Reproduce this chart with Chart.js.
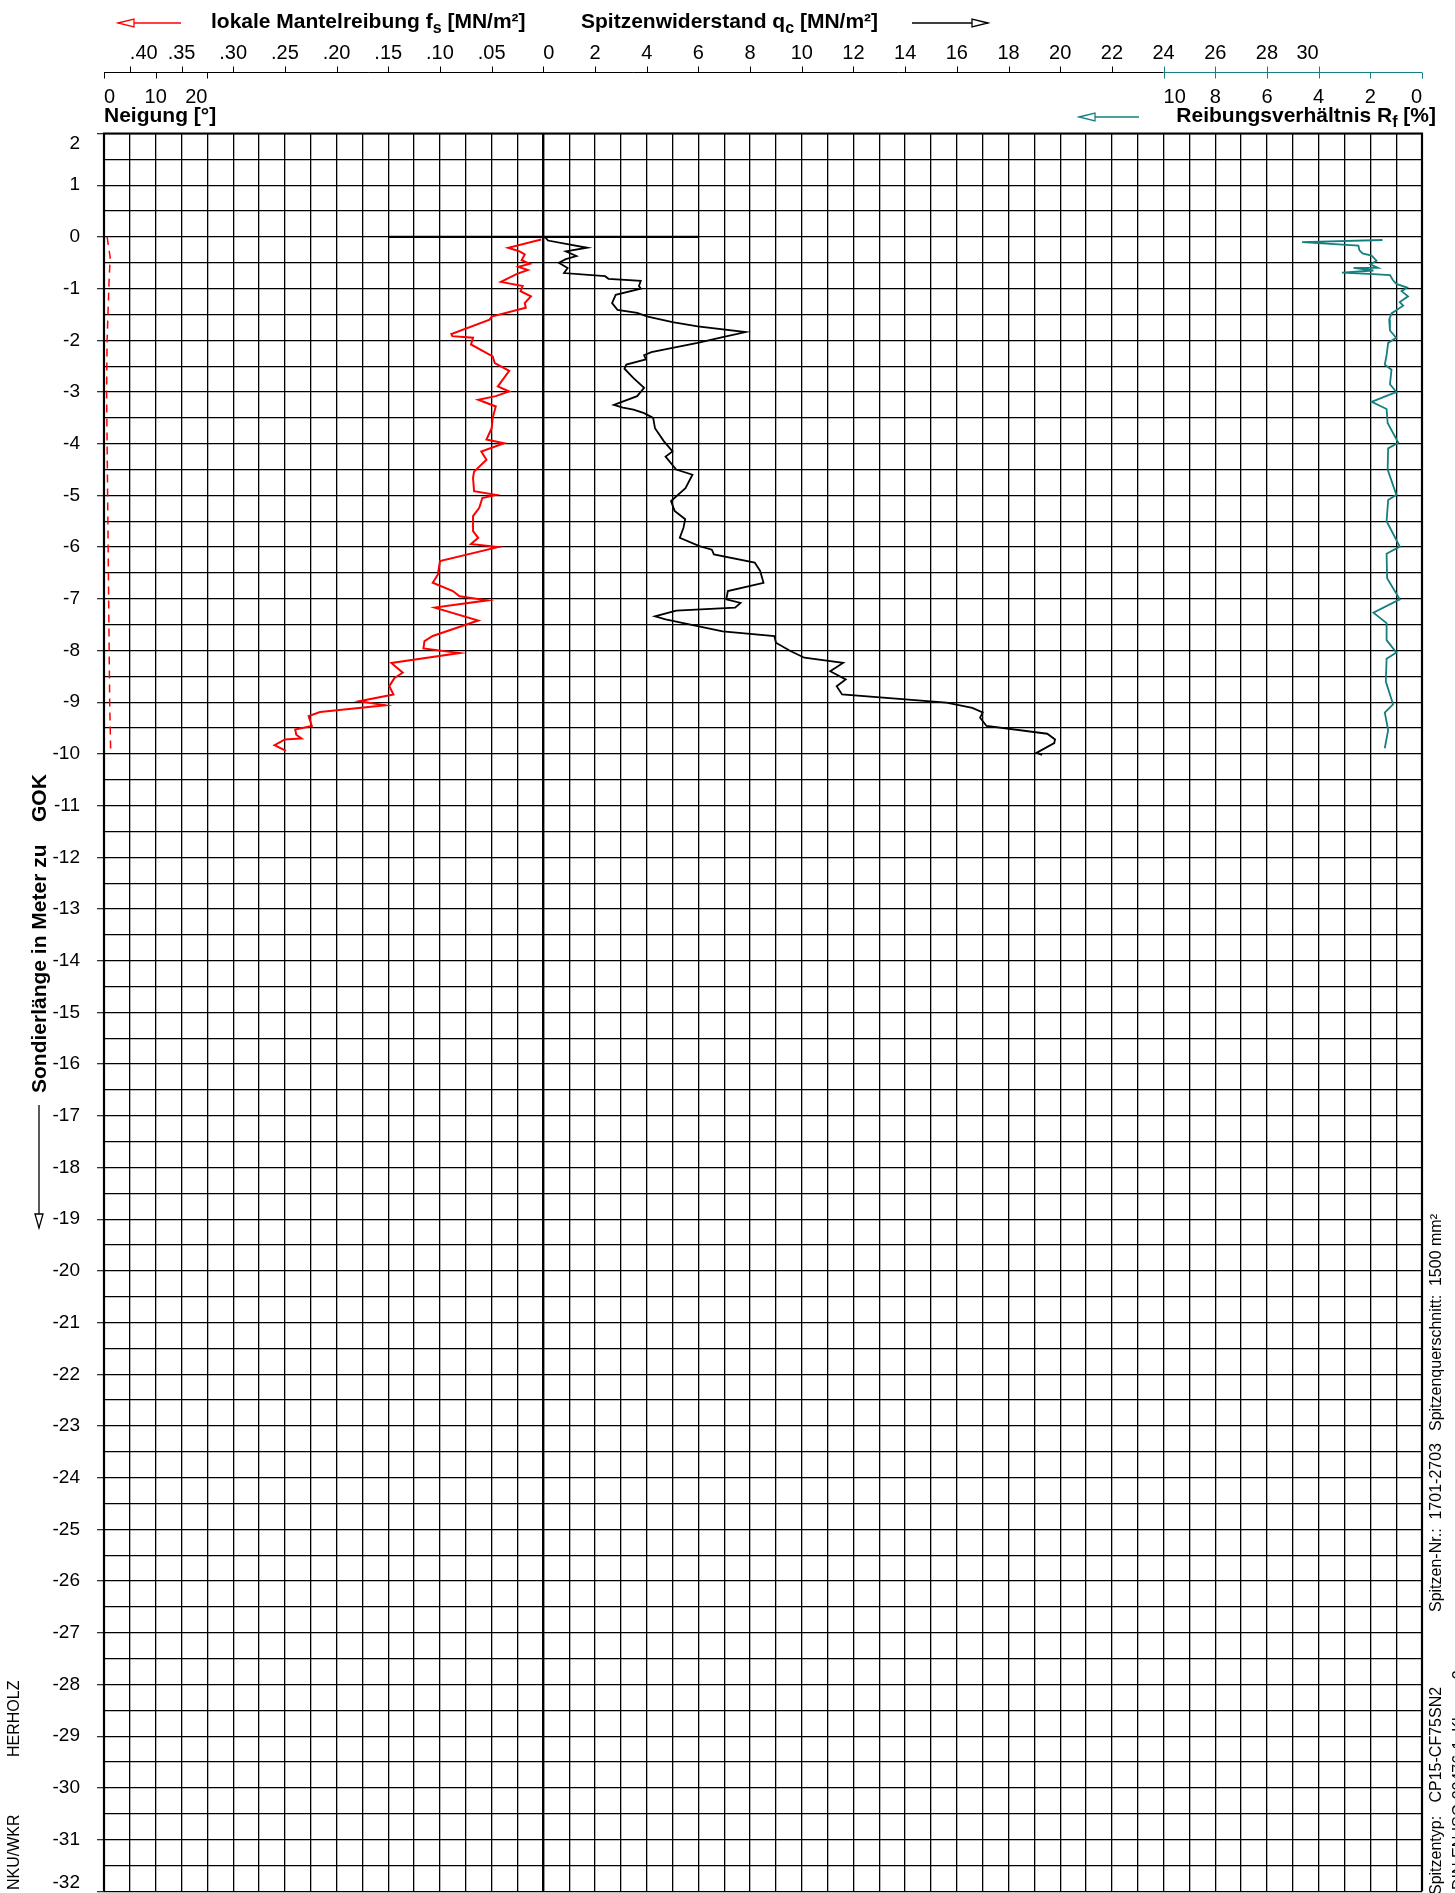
<!DOCTYPE html>
<html>
<head>
<meta charset="utf-8">
<script src="https://cdn.jsdelivr.net/npm/chart.js@4.4.0/dist/chart.umd.min.js"></script>
<style>
  html, body { margin: 0; padding: 0; background: #fff; overflow: hidden; }
  canvas { display: block; }
</style>
</head>
<body>
<canvas id="cpt" width="1455" height="1893"></canvas>
<script>
// ============================================
// CPT PLOT (Drucksondierung)
// qc, fs, Rf and Neigung over Sondierlaenge
// ============================================

// --- Spitzenwiderstand qc [MN/m2] ---
const qcDepth = [0, -0.02, -0.07, -0.21, -0.28, -0.37, -0.43, -0.50, -0.60, -0.70,
  -0.76, -0.81, -0.85, -0.95, -1.00, -1.12, -1.28, -1.41, -1.47, -1.54,
  -1.65, -1.73, -1.84, -1.94, -2.05, -2.23, -2.29, -2.37, -2.47, -2.55,
  -2.73, -2.92, -3.08, -3.25, -3.30, -3.34, -3.41, -3.50, -3.70, -3.95,
  -4.15, -4.25, -4.50, -4.60, -4.86, -5.11, -5.30, -5.46, -5.63, -5.82,
  -5.98, -6.05, -6.14, -6.30, -6.46, -6.69, -6.85, -7.01, -7.08, -7.17,
  -7.23, -7.34, -7.40, -7.53, -7.63, -7.72, -7.85, -8.01, -8.14, -8.24,
  -8.40, -8.56, -8.69, -8.85, -9.01, -9.11, -9.20, -9.30, -9.46, -9.61,
  -9.72, -9.79, -9.98, -10.02];
const qcValues = [0, 0.1, 0.18, 1.7, 0.87, 1.28, 0.87, 0.6, 0.94, 0.8,
  2.39, 2.52, 3.77, 3.7, 3.77, 2.8, 2.66, 2.87, 3.63, 4.04,
  5.0, 5.97, 7.83, 6.94, 5.97, 4.18, 3.9, 3.97, 3.21, 3.14,
  3.49, 3.9, 3.63, 2.73, 3.08, 3.49, 3.9, 4.25, 4.32, 4.66,
  5.0, 4.73, 5.14, 5.77, 5.5, 4.94, 5.08, 5.49, 5.42, 5.28,
  6.04, 6.52, 6.6, 8.18, 8.39, 8.52, 7.14, 7.08, 7.63, 7.42,
  5.14, 4.32, 4.73, 5.97, 6.94, 8.94, 9.0, 9.56, 10.1, 11.6,
  11.1, 11.7, 11.35, 11.56, 15.6, 16.6, 17.0, 16.9, 17.15, 19.5,
  19.8, 19.77, 19.08, 19.3];

// --- lokale Mantelreibung fs [MN/m2] ---
const fsDepth = [-0.05, -0.21, -0.28, -0.34, -0.45, -0.52, -0.58, -0.64, -0.72, -0.87,
  -0.95, -1.05, -1.15, -1.28, -1.37, -1.54, -1.60, -1.88, -1.92, -1.95,
  -2.08, -2.31, -2.44, -2.59, -2.89, -2.99, -3.08, -3.15, -3.28, -3.50,
  -3.70, -3.92, -3.99, -4.15, -4.31, -4.54, -4.66, -4.92, -4.99, -5.05,
  -5.24, -5.40, -5.69, -5.82, -5.94, -6.00, -6.27, -6.53, -6.69, -6.85,
  -6.95, -7.03, -7.17, -7.42, -7.72, -7.82, -7.96, -8.05, -8.24, -8.43,
  -8.53, -8.69, -8.85, -8.98, -9.06, -9.19, -9.27, -9.46, -9.53, -9.63,
  -9.70, -9.72, -9.83, -9.94];
const fsValues = [0.002, 0.034, 0.023, 0.018, 0.021, 0.013, 0.024, 0.015, 0.026, 0.041,
  0.020, 0.022, 0.012, 0.018, 0.017, 0.050, 0.052, 0.089, 0.088, 0.068,
  0.070, 0.049, 0.047, 0.033, 0.044, 0.033, 0.046, 0.063, 0.046, 0.049,
  0.050, 0.055, 0.038, 0.060, 0.055, 0.067, 0.068, 0.067, 0.046, 0.059,
  0.062, 0.068, 0.068, 0.063, 0.070, 0.044, 0.100, 0.102, 0.107, 0.0875,
  0.081, 0.054, 0.105, 0.063, 0.107, 0.115, 0.116, 0.081, 0.147, 0.136,
  0.144, 0.149, 0.145, 0.178, 0.153, 0.216, 0.227, 0.224, 0.240, 0.239,
  0.234, 0.250, 0.260, 0.249];

// --- Reibungsverhaeltnis Rf [%] ---
const rfDepth = [-0.06, -0.10, -0.17, -0.26, -0.32, -0.36, -0.46, -0.53, -0.60, -0.60,
  -0.65, -0.69, -0.72, -0.74, -0.84, -0.91, -0.98, -1.05, -1.15, -1.26,
  -1.33, -1.48, -1.60, -1.81, -1.95, -2.05, -2.29, -2.47, -2.57, -2.85,
  -3.00, -3.06, -3.19, -3.33, -3.60, -3.98, -4.09, -4.50, -4.99, -5.09,
  -5.50, -5.99, -6.13, -6.60, -7.01, -7.27, -7.47, -7.80, -8.04, -8.16,
  -8.60, -9.04, -9.20, -9.54, -9.89];
const rfValues = [1.53, 4.64, 2.46, 2.42, 2.30, 1.95, 1.76, 2.00, 1.70, 2.65,
  1.88, 3.10, 1.88, 1.24, 1.12, 0.99, 0.58, 0.79, 0.54, 0.86,
  0.73, 1.18, 1.27, 1.24, 1.00, 1.31, 1.37, 1.44, 1.18, 1.24,
  0.99, 1.30, 1.95, 1.37, 1.33, 0.92, 1.31, 1.33, 0.99, 1.31,
  1.37, 0.86, 1.37, 1.35, 0.86, 1.88, 1.37, 1.37, 0.99, 1.37,
  1.40, 1.12, 1.44, 1.31, 1.44];

// --- Neigung [deg] ---
const neigungDepth = [0, -0.4, -0.8, -2.0, -3.0, -5.0, -7.0, -9.0, -10.0];
const neigungValues = [0.6, 1.2, 1.0, 0.6, 0.5, 0.7, 0.9, 1.1, 1.3];

// reference line at Ansatzpunkt
const zeroLineQc = [-6, 6];
const zeroLineDepth = [0, 0];

// --- tick labels ---
const fsTickValues = [0.40, 0.35, 0.30, 0.25, 0.20, 0.15, 0.10, 0.05];
const qcTickValues = [0, 2, 4, 6, 8, 10, 12, 14, 16, 18, 20, 22, 24, 26, 28, 30];
const neigungTickValues = [0, 10, 20];
const rfTickValues = [10, 8, 6, 4, 2, 0];
const depthLabels = [2, 1, 0, -1, -2, -3, -4, -5, -6, -7, -8, -9, -10, -11, -12, -13, -14,
  -15, -16, -17, -18, -19, -20, -21, -22, -23, -24, -25, -26, -27, -28, -29, -30, -31, -32];

const TEAL = '#13807f';
const RED = '#ff0000';
const GRID = '#000';
const FONT = '"Liberation Sans", Arial, sans-serif';

function toPoints(xs, ys) {
    return xs.map((v, i) => ({ x: v, y: ys[i] }));
}

function strokeLine(ctx, x1, y1, x2, y2, color, width) {
    ctx.strokeStyle = color;
    ctx.lineWidth = width || 1;
    ctx.beginPath();
    ctx.moveTo(x1, y1);
    ctx.lineTo(x2, y2);
    ctx.stroke();
}

// line with open arrow head at (x2, y2)
function arrow(ctx, x1, y1, x2, y2, color, vertical) {
    strokeLine(ctx, x1, y1, x2, y2, color, 1.3);
    ctx.strokeStyle = color;
    ctx.fillStyle = '#fff';
    ctx.lineWidth = 1.3;
    ctx.beginPath();
    if (vertical) {
        ctx.moveTo(x2, y2); ctx.lineTo(x2 - 4, y2 - 14); ctx.lineTo(x2 + 4, y2 - 14);
    } else {
        const d = x2 > x1 ? -1 : 1;
        ctx.moveTo(x2, y2); ctx.lineTo(x2 + d * 16, y2 - 4); ctx.lineTo(x2 + d * 16, y2 + 4);
    }
    ctx.closePath();
    ctx.fill();
    ctx.stroke();
}

// bold text with subscript parts
function drawRich(ctx, parts, x, y, align) {
    let total = 0;
    parts.forEach(p => {
        ctx.font = p.sub ? 'bold 16px ' + FONT : 'bold 21px ' + FONT;
        p.w = ctx.measureText(p.t).width;
        total += p.w;
    });
    let cx = align === 'right' ? x - total : x;
    ctx.textAlign = 'left';
    ctx.textBaseline = 'middle';
    ctx.fillStyle = '#000';
    parts.forEach(p => {
        ctx.font = p.sub ? 'bold 16px ' + FONT : 'bold 21px ' + FONT;
        ctx.fillText(p.t, cx, p.sub ? y + 7 : y);
        cx += p.w;
    });
}

function rotatedText(ctx, text, x, yBottom, font) {
    ctx.save();
    ctx.translate(x, yBottom);
    ctx.rotate(-Math.PI / 2);
    ctx.font = font;
    ctx.fillStyle = '#000';
    ctx.textAlign = 'left';
    ctx.textBaseline = 'middle';
    ctx.fillText(text, 0, 0);
    ctx.restore();
}

function labelRow(ctx, values, scale, y, fmt) {
    ctx.font = '20px ' + FONT;
    ctx.fillStyle = '#000';
    ctx.textBaseline = 'middle';
    values.forEach((v, i) => {
        ctx.textAlign = i === 0 ? 'left' : (i === values.length - 1 && fmt.clampEnd ? 'right' : 'center');
        ctx.fillText(fmt.f(v), scale.getPixelForValue(v), y);
    });
}

const cptFrame = {
    id: 'cptFrame',
    beforeDraw(chart) {
        const ctx = chart.ctx;
        ctx.save();
        ctx.fillStyle = '#fff';
        ctx.fillRect(0, 0, chart.width, chart.height);
        ctx.restore();
    },
    afterDraw(chart) {
        const { ctx, chartArea: a, scales } = chart;
        const xQ = scales.xQc, xF = scales.xFs, xR = scales.xRf, xNe = scales.xN, yS = scales.y;
        ctx.save();

        // frame
        ctx.strokeStyle = '#000';
        ctx.lineWidth = 2.2;
        ctx.beginPath();
        ctx.moveTo(a.left, a.bottom);
        ctx.lineTo(a.left, a.top);
        ctx.lineTo(a.right, a.top);
        ctx.lineTo(a.right, a.bottom);
        ctx.stroke();

        // top axis
        const axisY = 72.5;
        const x24 = xQ.getPixelForValue(24);
        strokeLine(ctx, a.left, axisY, x24, axisY, '#000', 1);
        strokeLine(ctx, x24, axisY, a.right, axisY, TEAL, 1);
        fsTickValues.forEach(v => {
            const px = Math.round(xF.getPixelForValue(v)) + 0.5;
            strokeLine(ctx, px, axisY - 6, px, axisY, '#000', 1);
        });
        qcTickValues.forEach(v => {
            const px = Math.round(xQ.getPixelForValue(v)) + 0.5;
            strokeLine(ctx, px, axisY - 6, px, axisY, v >= 24 ? TEAL : '#000', 1);
        });
        neigungTickValues.forEach(v => {
            const px = Math.round(xNe.getPixelForValue(v)) + 0.5;
            strokeLine(ctx, px, axisY, px, axisY + 6, '#000', 1);
        });
        rfTickValues.forEach(v => {
            const px = Math.round(xR.getPixelForValue(v)) + 0.5;
            strokeLine(ctx, px, axisY, px, axisY + 6, TEAL, 1);
        });

        // tick labels
        labelRow(ctx, fsTickValues, xF, 53, { f: v => v.toFixed(2).replace(/^0/, ''), clampEnd: false });
        labelRow(ctx, qcTickValues, xQ, 53, { f: v => String(v), clampEnd: true });
        labelRow(ctx, neigungTickValues, xNe, 97, { f: v => String(v), clampEnd: true });
        labelRow(ctx, rfTickValues, xR, 97, { f: v => String(v), clampEnd: true });

        // titles
        drawRich(ctx, [{ t: 'lokale Mantelreibung f' }, { t: 's', sub: true }, { t: ' [MN/m²]' }], 211, 22);
        drawRich(ctx, [{ t: 'Spitzenwiderstand q' }, { t: 'c', sub: true }, { t: ' [MN/m²]' }], 581, 22);
        drawRich(ctx, [{ t: 'Neigung [°]' }], 104, 116);
        drawRich(ctx, [{ t: 'Reibungsverhältnis R' }, { t: 'f', sub: true }, { t: ' [%]' }], 1436, 116, 'right');

        arrow(ctx, 181, 23, 118, 23, RED);
        arrow(ctx, 912, 23, 988, 23, '#000');
        arrow(ctx, 1139, 117, 1079, 117, TEAL);

        // depth labels
        ctx.font = '19px ' + FONT;
        ctx.fillStyle = '#000';
        ctx.textAlign = 'right';
        depthLabels.forEach((v, i) => {
            const py = yS.getPixelForValue(v);
            if (i === 0) { ctx.textBaseline = 'top'; ctx.fillText(String(v), 80, py + 1); }
            else if (i === depthLabels.length - 1) { ctx.textBaseline = 'bottom'; ctx.fillText(String(v), 80, py + 1); }
            else { ctx.textBaseline = 'middle'; ctx.fillText(String(v), 80, py); }
        });

        // left axis title
        rotatedText(ctx, 'Sondierlänge in Meter zu', 40, 1093, 'bold 21px ' + FONT);
        rotatedText(ctx, 'GOK', 40, 822, 'bold 21px ' + FONT);
        arrow(ctx, 39, 1105, 39, 1228, '#000', true);

        // side notes
        rotatedText(ctx, 'HERHOLZ', 15, 1757, '16px ' + FONT);
        rotatedText(ctx, 'NKU/WKR', 15, 1890, '16px ' + FONT);
        rotatedText(ctx, 'Spitzenquerschnitt:  1500 mm²', 1437, 1431, '16px ' + FONT);
        rotatedText(ctx, 'Spitzen-Nr.:  1701-2703', 1437, 1612, '16px ' + FONT);
        rotatedText(ctx, 'Spitzentyp:   CP15-CF75SN2', 1437, 1895, '16px ' + FONT);
        rotatedText(ctx, 'DIN EN ISO 22476-1, Klasse 2', 1460, 1890, '16px ' + FONT);

        ctx.restore();
    }
};

new Chart(document.getElementById('cpt'), {
    type: 'scatter',
    data: {
        datasets: [
            {
                label: 'Ansatzpunkt',
                data: toPoints(zeroLineQc, zeroLineDepth),
                xAxisID: 'xQc', yAxisID: 'y',
                borderColor: '#000', borderWidth: 2.2, showLine: true
            },
            {
                label: 'Neigung',
                data: toPoints(neigungValues, neigungDepth),
                xAxisID: 'xN', yAxisID: 'y',
                borderColor: RED, borderWidth: 1.5, borderDash: [8, 6], showLine: true
            },
            {
                label: 'fs',
                data: toPoints(fsValues, fsDepth),
                xAxisID: 'xFs', yAxisID: 'y',
                borderColor: RED, borderWidth: 2, showLine: true
            },
            {
                label: 'Rf',
                data: toPoints(rfValues, rfDepth),
                xAxisID: 'xRf', yAxisID: 'y',
                borderColor: TEAL, borderWidth: 1.8, showLine: true
            },
            {
                label: 'qc',
                data: toPoints(qcValues, qcDepth),
                xAxisID: 'xQc', yAxisID: 'y',
                borderColor: '#000', borderWidth: 1.8, showLine: true
            }
        ]
    },
    options: {
        responsive: false,
        animation: false,
        devicePixelRatio: 1,
        layout: { padding: { top: 133.5, right: 33, bottom: 1.7, left: 0 } },
        elements: { point: { radius: 0, hoverRadius: 0 }, line: { tension: 0 } },
        plugins: { legend: { display: false }, tooltip: { enabled: false } },
        scales: {
            xQc: {
                type: 'linear', position: 'top', min: -17, max: 34,
                ticks: { display: false, stepSize: 1 },
                grid: {
                    color: GRID, drawTicks: false,
                    lineWidth: c => (c.tick && c.tick.value === 0 ? 2.4 : 1.3)
                },
                border: { display: false },
                afterFit: s => { s.height = 0; s.paddingLeft = 0; s.paddingRight = 0; }
            },
            xFs: { type: 'linear', display: false, min: -0.85, max: 0.425, reverse: true },
            xRf: { type: 'linear', display: false, min: 0, max: 51, reverse: true },
            xN: { type: 'linear', display: false, min: 0, max: 255 },
            y: {
                type: 'linear', position: 'left', min: -32, max: 2,
                ticks: { display: false, stepSize: 0.5 },
                grid: {
                    color: GRID, lineWidth: 1.3, tickLength: 7,
                    tickColor: c => (Number.isInteger(c.tick.value) ? '#333' : 'rgba(0,0,0,0)')
                },
                border: { display: false },
                afterFit: s => { s.width = 104; s.paddingTop = 0; s.paddingBottom = 0; }
            }
        }
    },
    plugins: [cptFrame]
});
</script>
</body>
</html>
